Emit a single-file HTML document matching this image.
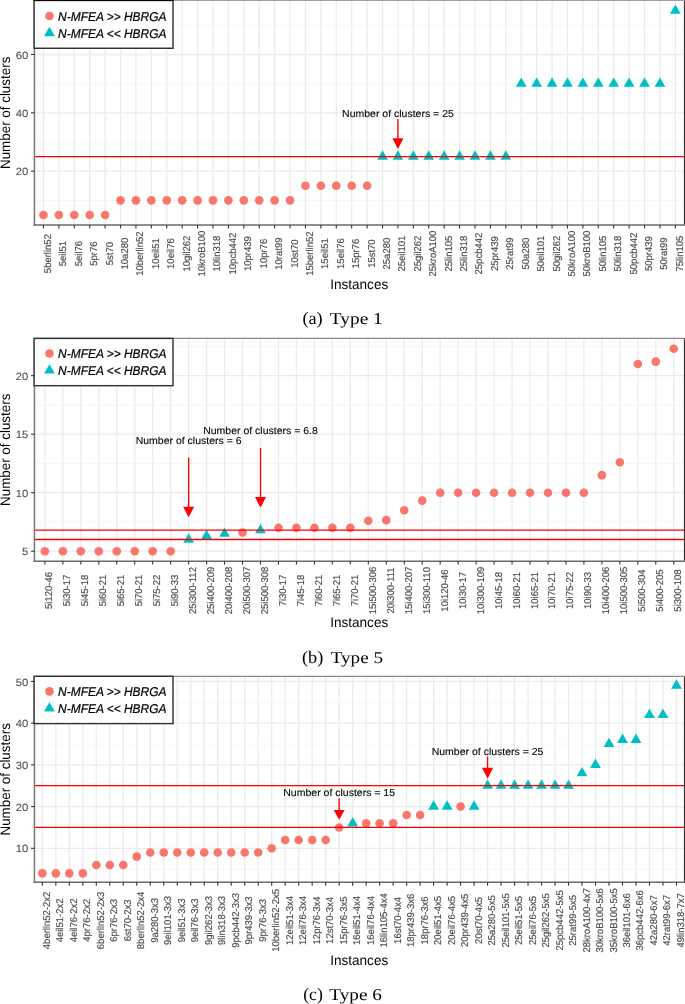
<!DOCTYPE html>
<html><head><meta charset="utf-8"><title>Number of clusters</title>
<style>
html,body{margin:0;padding:0;background:#fff;}
body{width:685px;height:1004px;overflow:hidden;}
svg{display:block;font-family:"Liberation Sans",sans-serif;text-rendering:geometricPrecision;filter:contrast(1);}
</style></head>
<body>
<svg width="685" height="1004" viewBox="0 0 685 1004">
<rect width="685" height="1004" fill="#fff"/>
<rect x="34.45" y="0.7" width="650" height="224.3" fill="#fff"/>
<line x1="34.45" x2="684.45" y1="200.35" y2="200.35" stroke="#F4F4F4" stroke-width="0.8"/>
<line x1="34.45" x2="684.45" y1="142.01" y2="142.01" stroke="#F4F4F4" stroke-width="0.8"/>
<line x1="34.45" x2="684.45" y1="83.66" y2="83.66" stroke="#F4F4F4" stroke-width="0.8"/>
<line x1="34.45" x2="684.45" y1="25.32" y2="25.32" stroke="#F4F4F4" stroke-width="0.8"/>
<line x1="34.45" x2="684.45" y1="171.18" y2="171.18" stroke="#EBEBEB" stroke-width="1.3"/>
<line x1="34.45" x2="684.45" y1="112.84" y2="112.84" stroke="#EBEBEB" stroke-width="1.3"/>
<line x1="34.45" x2="684.45" y1="54.49" y2="54.49" stroke="#EBEBEB" stroke-width="1.3"/>
<line x1="43.45" x2="43.45" y1="0.7" y2="225" stroke="#EBEBEB" stroke-width="1.3"/>
<line x1="58.86" x2="58.86" y1="0.7" y2="225" stroke="#EBEBEB" stroke-width="1.3"/>
<line x1="74.27" x2="74.27" y1="0.7" y2="225" stroke="#EBEBEB" stroke-width="1.3"/>
<line x1="89.69" x2="89.69" y1="0.7" y2="225" stroke="#EBEBEB" stroke-width="1.3"/>
<line x1="105.1" x2="105.1" y1="0.7" y2="225" stroke="#EBEBEB" stroke-width="1.3"/>
<line x1="120.51" x2="120.51" y1="0.7" y2="225" stroke="#EBEBEB" stroke-width="1.3"/>
<line x1="135.92" x2="135.92" y1="0.7" y2="225" stroke="#EBEBEB" stroke-width="1.3"/>
<line x1="151.34" x2="151.34" y1="0.7" y2="225" stroke="#EBEBEB" stroke-width="1.3"/>
<line x1="166.75" x2="166.75" y1="0.7" y2="225" stroke="#EBEBEB" stroke-width="1.3"/>
<line x1="182.16" x2="182.16" y1="0.7" y2="225" stroke="#EBEBEB" stroke-width="1.3"/>
<line x1="197.57" x2="197.57" y1="0.7" y2="225" stroke="#EBEBEB" stroke-width="1.3"/>
<line x1="212.98" x2="212.98" y1="0.7" y2="225" stroke="#EBEBEB" stroke-width="1.3"/>
<line x1="228.4" x2="228.4" y1="0.7" y2="225" stroke="#EBEBEB" stroke-width="1.3"/>
<line x1="243.81" x2="243.81" y1="0.7" y2="225" stroke="#EBEBEB" stroke-width="1.3"/>
<line x1="259.22" x2="259.22" y1="0.7" y2="225" stroke="#EBEBEB" stroke-width="1.3"/>
<line x1="274.63" x2="274.63" y1="0.7" y2="225" stroke="#EBEBEB" stroke-width="1.3"/>
<line x1="290.05" x2="290.05" y1="0.7" y2="225" stroke="#EBEBEB" stroke-width="1.3"/>
<line x1="305.46" x2="305.46" y1="0.7" y2="225" stroke="#EBEBEB" stroke-width="1.3"/>
<line x1="320.87" x2="320.87" y1="0.7" y2="225" stroke="#EBEBEB" stroke-width="1.3"/>
<line x1="336.28" x2="336.28" y1="0.7" y2="225" stroke="#EBEBEB" stroke-width="1.3"/>
<line x1="351.69" x2="351.69" y1="0.7" y2="225" stroke="#EBEBEB" stroke-width="1.3"/>
<line x1="367.11" x2="367.11" y1="0.7" y2="225" stroke="#EBEBEB" stroke-width="1.3"/>
<line x1="382.52" x2="382.52" y1="0.7" y2="225" stroke="#EBEBEB" stroke-width="1.3"/>
<line x1="397.93" x2="397.93" y1="0.7" y2="225" stroke="#EBEBEB" stroke-width="1.3"/>
<line x1="413.34" x2="413.34" y1="0.7" y2="225" stroke="#EBEBEB" stroke-width="1.3"/>
<line x1="428.75" x2="428.75" y1="0.7" y2="225" stroke="#EBEBEB" stroke-width="1.3"/>
<line x1="444.17" x2="444.17" y1="0.7" y2="225" stroke="#EBEBEB" stroke-width="1.3"/>
<line x1="459.58" x2="459.58" y1="0.7" y2="225" stroke="#EBEBEB" stroke-width="1.3"/>
<line x1="474.99" x2="474.99" y1="0.7" y2="225" stroke="#EBEBEB" stroke-width="1.3"/>
<line x1="490.4" x2="490.4" y1="0.7" y2="225" stroke="#EBEBEB" stroke-width="1.3"/>
<line x1="505.82" x2="505.82" y1="0.7" y2="225" stroke="#EBEBEB" stroke-width="1.3"/>
<line x1="521.23" x2="521.23" y1="0.7" y2="225" stroke="#EBEBEB" stroke-width="1.3"/>
<line x1="536.64" x2="536.64" y1="0.7" y2="225" stroke="#EBEBEB" stroke-width="1.3"/>
<line x1="552.05" x2="552.05" y1="0.7" y2="225" stroke="#EBEBEB" stroke-width="1.3"/>
<line x1="567.46" x2="567.46" y1="0.7" y2="225" stroke="#EBEBEB" stroke-width="1.3"/>
<line x1="582.88" x2="582.88" y1="0.7" y2="225" stroke="#EBEBEB" stroke-width="1.3"/>
<line x1="598.29" x2="598.29" y1="0.7" y2="225" stroke="#EBEBEB" stroke-width="1.3"/>
<line x1="613.7" x2="613.7" y1="0.7" y2="225" stroke="#EBEBEB" stroke-width="1.3"/>
<line x1="629.11" x2="629.11" y1="0.7" y2="225" stroke="#EBEBEB" stroke-width="1.3"/>
<line x1="644.53" x2="644.53" y1="0.7" y2="225" stroke="#EBEBEB" stroke-width="1.3"/>
<line x1="659.94" x2="659.94" y1="0.7" y2="225" stroke="#EBEBEB" stroke-width="1.3"/>
<line x1="675.35" x2="675.35" y1="0.7" y2="225" stroke="#EBEBEB" stroke-width="1.3"/>
<circle cx="43.45" cy="214.94" r="4.3" fill="#F8766D"/>
<circle cx="58.86" cy="214.94" r="4.3" fill="#F8766D"/>
<circle cx="74.27" cy="214.94" r="4.3" fill="#F8766D"/>
<circle cx="89.69" cy="214.94" r="4.3" fill="#F8766D"/>
<circle cx="105.1" cy="214.94" r="4.3" fill="#F8766D"/>
<circle cx="120.51" cy="200.35" r="4.3" fill="#F8766D"/>
<circle cx="135.92" cy="200.35" r="4.3" fill="#F8766D"/>
<circle cx="151.34" cy="200.35" r="4.3" fill="#F8766D"/>
<circle cx="166.75" cy="200.35" r="4.3" fill="#F8766D"/>
<circle cx="182.16" cy="200.35" r="4.3" fill="#F8766D"/>
<circle cx="197.57" cy="200.35" r="4.3" fill="#F8766D"/>
<circle cx="212.98" cy="200.35" r="4.3" fill="#F8766D"/>
<circle cx="228.4" cy="200.35" r="4.3" fill="#F8766D"/>
<circle cx="243.81" cy="200.35" r="4.3" fill="#F8766D"/>
<circle cx="259.22" cy="200.35" r="4.3" fill="#F8766D"/>
<circle cx="274.63" cy="200.35" r="4.3" fill="#F8766D"/>
<circle cx="290.05" cy="200.35" r="4.3" fill="#F8766D"/>
<circle cx="305.46" cy="185.77" r="4.3" fill="#F8766D"/>
<circle cx="320.87" cy="185.77" r="4.3" fill="#F8766D"/>
<circle cx="336.28" cy="185.77" r="4.3" fill="#F8766D"/>
<circle cx="351.69" cy="185.77" r="4.3" fill="#F8766D"/>
<circle cx="367.11" cy="185.77" r="4.3" fill="#F8766D"/>
<path d="M382.52 150.36L387.92 159.71L377.12 159.71Z" fill="#00BFC4"/>
<path d="M397.93 150.36L403.33 159.71L392.53 159.71Z" fill="#00BFC4"/>
<path d="M413.34 150.36L418.74 159.71L407.94 159.71Z" fill="#00BFC4"/>
<path d="M428.75 150.36L434.15 159.71L423.35 159.71Z" fill="#00BFC4"/>
<path d="M444.17 150.36L449.57 159.71L438.77 159.71Z" fill="#00BFC4"/>
<path d="M459.58 150.36L464.98 159.71L454.18 159.71Z" fill="#00BFC4"/>
<path d="M474.99 150.36L480.39 159.71L469.59 159.71Z" fill="#00BFC4"/>
<path d="M490.4 150.36L495.8 159.71L485 159.71Z" fill="#00BFC4"/>
<path d="M505.82 150.36L511.22 159.71L500.42 159.71Z" fill="#00BFC4"/>
<path d="M521.23 77.43L526.63 86.78L515.83 86.78Z" fill="#00BFC4"/>
<path d="M536.64 77.43L542.04 86.78L531.24 86.78Z" fill="#00BFC4"/>
<path d="M552.05 77.43L557.45 86.78L546.65 86.78Z" fill="#00BFC4"/>
<path d="M567.46 77.43L572.86 86.78L562.06 86.78Z" fill="#00BFC4"/>
<path d="M582.88 77.43L588.28 86.78L577.48 86.78Z" fill="#00BFC4"/>
<path d="M598.29 77.43L603.69 86.78L592.89 86.78Z" fill="#00BFC4"/>
<path d="M613.7 77.43L619.1 86.78L608.3 86.78Z" fill="#00BFC4"/>
<path d="M629.11 77.43L634.51 86.78L623.71 86.78Z" fill="#00BFC4"/>
<path d="M644.53 77.43L649.93 86.78L639.13 86.78Z" fill="#00BFC4"/>
<path d="M659.94 77.43L665.34 86.78L654.54 86.78Z" fill="#00BFC4"/>
<path d="M675.35 4.5L680.75 13.85L669.95 13.85Z" fill="#00BFC4"/>
<line x1="34.45" x2="684.45" y1="156.59" y2="156.59" stroke="#FF0000" stroke-width="1.3"/>
<text transform="translate(397.93 117.1) scale(1 0.96)" font-size="10.5" text-anchor="middle" fill="#000" stroke="#000" stroke-width="0.1">Number of clusters = 25</text>
<line x1="397.93" x2="397.93" y1="119" y2="138.8" stroke="#FF0000" stroke-width="1.35"/>
<path d="M392.43 138.3L403.43 138.3L397.93 148.9Z" fill="#FF0000"/>
<line x1="34.45" x2="684.45" y1="0.5" y2="0.5" stroke="#a0a0a0" stroke-width="1.0"/>
<line x1="684.45" x2="684.45" y1="0.7" y2="225" stroke="#333333" stroke-width="1.1"/>
<line x1="34.45" x2="34.45" y1="0.7" y2="225.8" stroke="#777777" stroke-width="1.5"/>
<line x1="33.7" x2="685" y1="225" y2="225" stroke="#6a6a6a" stroke-width="1.6"/>
<line x1="31.05" x2="34.45" y1="171.18" y2="171.18" stroke="#333333" stroke-width="1.1"/>
<text transform="translate(28.2 175.28) scale(1 0.94)" font-size="11.2" text-anchor="end" fill="#4D4D4D" stroke="#4D4D4D" stroke-width="0.08">20</text>
<line x1="31.05" x2="34.45" y1="112.84" y2="112.84" stroke="#333333" stroke-width="1.1"/>
<text transform="translate(28.2 116.94) scale(1 0.94)" font-size="11.2" text-anchor="end" fill="#4D4D4D" stroke="#4D4D4D" stroke-width="0.08">40</text>
<line x1="31.05" x2="34.45" y1="54.49" y2="54.49" stroke="#333333" stroke-width="1.1"/>
<text transform="translate(28.2 58.59) scale(1 0.94)" font-size="11.2" text-anchor="end" fill="#4D4D4D" stroke="#4D4D4D" stroke-width="0.08">60</text>
<line x1="43.45" x2="43.45" y1="225" y2="228.4" stroke="#333333" stroke-width="1.1"/>
<text transform="translate(50.95 253.6) rotate(-90) scale(1 1.04)" font-size="9.5" text-anchor="middle" fill="#4D4D4D" stroke="#4D4D4D" stroke-width="0.18">5berlin52</text>
<line x1="58.86" x2="58.86" y1="225" y2="228.4" stroke="#333333" stroke-width="1.1"/>
<text transform="translate(66.36 253.6) rotate(-90) scale(1 1.04)" font-size="9.5" text-anchor="middle" fill="#4D4D4D" stroke="#4D4D4D" stroke-width="0.18">5eil51</text>
<line x1="74.27" x2="74.27" y1="225" y2="228.4" stroke="#333333" stroke-width="1.1"/>
<text transform="translate(81.77 253.6) rotate(-90) scale(1 1.04)" font-size="9.5" text-anchor="middle" fill="#4D4D4D" stroke="#4D4D4D" stroke-width="0.18">5eil76</text>
<line x1="89.69" x2="89.69" y1="225" y2="228.4" stroke="#333333" stroke-width="1.1"/>
<text transform="translate(97.19 253.6) rotate(-90) scale(1 1.04)" font-size="9.5" text-anchor="middle" fill="#4D4D4D" stroke="#4D4D4D" stroke-width="0.18">5pr76</text>
<line x1="105.1" x2="105.1" y1="225" y2="228.4" stroke="#333333" stroke-width="1.1"/>
<text transform="translate(112.6 253.6) rotate(-90) scale(1 1.04)" font-size="9.5" text-anchor="middle" fill="#4D4D4D" stroke="#4D4D4D" stroke-width="0.18">5st70</text>
<line x1="120.51" x2="120.51" y1="225" y2="228.4" stroke="#333333" stroke-width="1.1"/>
<text transform="translate(128.01 253.6) rotate(-90) scale(1 1.04)" font-size="9.5" text-anchor="middle" fill="#4D4D4D" stroke="#4D4D4D" stroke-width="0.18">10a280</text>
<line x1="135.92" x2="135.92" y1="225" y2="228.4" stroke="#333333" stroke-width="1.1"/>
<text transform="translate(143.42 253.6) rotate(-90) scale(1 1.04)" font-size="9.5" text-anchor="middle" fill="#4D4D4D" stroke="#4D4D4D" stroke-width="0.18">10berlin52</text>
<line x1="151.34" x2="151.34" y1="225" y2="228.4" stroke="#333333" stroke-width="1.1"/>
<text transform="translate(158.84 253.6) rotate(-90) scale(1 1.04)" font-size="9.5" text-anchor="middle" fill="#4D4D4D" stroke="#4D4D4D" stroke-width="0.18">10eil51</text>
<line x1="166.75" x2="166.75" y1="225" y2="228.4" stroke="#333333" stroke-width="1.1"/>
<text transform="translate(174.25 253.6) rotate(-90) scale(1 1.04)" font-size="9.5" text-anchor="middle" fill="#4D4D4D" stroke="#4D4D4D" stroke-width="0.18">10eil76</text>
<line x1="182.16" x2="182.16" y1="225" y2="228.4" stroke="#333333" stroke-width="1.1"/>
<text transform="translate(189.66 253.6) rotate(-90) scale(1 1.04)" font-size="9.5" text-anchor="middle" fill="#4D4D4D" stroke="#4D4D4D" stroke-width="0.18">10gil262</text>
<line x1="197.57" x2="197.57" y1="225" y2="228.4" stroke="#333333" stroke-width="1.1"/>
<text transform="translate(205.07 253.6) rotate(-90) scale(1 1.04)" font-size="9.5" text-anchor="middle" fill="#4D4D4D" stroke="#4D4D4D" stroke-width="0.18">10kroB100</text>
<line x1="212.98" x2="212.98" y1="225" y2="228.4" stroke="#333333" stroke-width="1.1"/>
<text transform="translate(220.48 253.6) rotate(-90) scale(1 1.04)" font-size="9.5" text-anchor="middle" fill="#4D4D4D" stroke="#4D4D4D" stroke-width="0.18">10lin318</text>
<line x1="228.4" x2="228.4" y1="225" y2="228.4" stroke="#333333" stroke-width="1.1"/>
<text transform="translate(235.9 253.6) rotate(-90) scale(1 1.04)" font-size="9.5" text-anchor="middle" fill="#4D4D4D" stroke="#4D4D4D" stroke-width="0.18">10pcb442</text>
<line x1="243.81" x2="243.81" y1="225" y2="228.4" stroke="#333333" stroke-width="1.1"/>
<text transform="translate(251.31 253.6) rotate(-90) scale(1 1.04)" font-size="9.5" text-anchor="middle" fill="#4D4D4D" stroke="#4D4D4D" stroke-width="0.18">10pr439</text>
<line x1="259.22" x2="259.22" y1="225" y2="228.4" stroke="#333333" stroke-width="1.1"/>
<text transform="translate(266.72 253.6) rotate(-90) scale(1 1.04)" font-size="9.5" text-anchor="middle" fill="#4D4D4D" stroke="#4D4D4D" stroke-width="0.18">10pr76</text>
<line x1="274.63" x2="274.63" y1="225" y2="228.4" stroke="#333333" stroke-width="1.1"/>
<text transform="translate(282.13 253.6) rotate(-90) scale(1 1.04)" font-size="9.5" text-anchor="middle" fill="#4D4D4D" stroke="#4D4D4D" stroke-width="0.18">10rat99</text>
<line x1="290.05" x2="290.05" y1="225" y2="228.4" stroke="#333333" stroke-width="1.1"/>
<text transform="translate(297.55 253.6) rotate(-90) scale(1 1.04)" font-size="9.5" text-anchor="middle" fill="#4D4D4D" stroke="#4D4D4D" stroke-width="0.18">10st70</text>
<line x1="305.46" x2="305.46" y1="225" y2="228.4" stroke="#333333" stroke-width="1.1"/>
<text transform="translate(312.96 253.6) rotate(-90) scale(1 1.04)" font-size="9.5" text-anchor="middle" fill="#4D4D4D" stroke="#4D4D4D" stroke-width="0.18">15berlin52</text>
<line x1="320.87" x2="320.87" y1="225" y2="228.4" stroke="#333333" stroke-width="1.1"/>
<text transform="translate(328.37 253.6) rotate(-90) scale(1 1.04)" font-size="9.5" text-anchor="middle" fill="#4D4D4D" stroke="#4D4D4D" stroke-width="0.18">15eil51</text>
<line x1="336.28" x2="336.28" y1="225" y2="228.4" stroke="#333333" stroke-width="1.1"/>
<text transform="translate(343.78 253.6) rotate(-90) scale(1 1.04)" font-size="9.5" text-anchor="middle" fill="#4D4D4D" stroke="#4D4D4D" stroke-width="0.18">15eil76</text>
<line x1="351.69" x2="351.69" y1="225" y2="228.4" stroke="#333333" stroke-width="1.1"/>
<text transform="translate(359.19 253.6) rotate(-90) scale(1 1.04)" font-size="9.5" text-anchor="middle" fill="#4D4D4D" stroke="#4D4D4D" stroke-width="0.18">15pr76</text>
<line x1="367.11" x2="367.11" y1="225" y2="228.4" stroke="#333333" stroke-width="1.1"/>
<text transform="translate(374.61 253.6) rotate(-90) scale(1 1.04)" font-size="9.5" text-anchor="middle" fill="#4D4D4D" stroke="#4D4D4D" stroke-width="0.18">15st70</text>
<line x1="382.52" x2="382.52" y1="225" y2="228.4" stroke="#333333" stroke-width="1.1"/>
<text transform="translate(390.02 253.6) rotate(-90) scale(1 1.04)" font-size="9.5" text-anchor="middle" fill="#4D4D4D" stroke="#4D4D4D" stroke-width="0.18">25a280</text>
<line x1="397.93" x2="397.93" y1="225" y2="228.4" stroke="#333333" stroke-width="1.1"/>
<text transform="translate(405.43 253.6) rotate(-90) scale(1 1.04)" font-size="9.5" text-anchor="middle" fill="#4D4D4D" stroke="#4D4D4D" stroke-width="0.18">25eil101</text>
<line x1="413.34" x2="413.34" y1="225" y2="228.4" stroke="#333333" stroke-width="1.1"/>
<text transform="translate(420.84 253.6) rotate(-90) scale(1 1.04)" font-size="9.5" text-anchor="middle" fill="#4D4D4D" stroke="#4D4D4D" stroke-width="0.18">25gil262</text>
<line x1="428.75" x2="428.75" y1="225" y2="228.4" stroke="#333333" stroke-width="1.1"/>
<text transform="translate(436.25 253.6) rotate(-90) scale(1 1.04)" font-size="9.5" text-anchor="middle" fill="#4D4D4D" stroke="#4D4D4D" stroke-width="0.18">25kroA100</text>
<line x1="444.17" x2="444.17" y1="225" y2="228.4" stroke="#333333" stroke-width="1.1"/>
<text transform="translate(451.67 253.6) rotate(-90) scale(1 1.04)" font-size="9.5" text-anchor="middle" fill="#4D4D4D" stroke="#4D4D4D" stroke-width="0.18">25lin105</text>
<line x1="459.58" x2="459.58" y1="225" y2="228.4" stroke="#333333" stroke-width="1.1"/>
<text transform="translate(467.08 253.6) rotate(-90) scale(1 1.04)" font-size="9.5" text-anchor="middle" fill="#4D4D4D" stroke="#4D4D4D" stroke-width="0.18">25lin318</text>
<line x1="474.99" x2="474.99" y1="225" y2="228.4" stroke="#333333" stroke-width="1.1"/>
<text transform="translate(482.49 253.6) rotate(-90) scale(1 1.04)" font-size="9.5" text-anchor="middle" fill="#4D4D4D" stroke="#4D4D4D" stroke-width="0.18">25pcb442</text>
<line x1="490.4" x2="490.4" y1="225" y2="228.4" stroke="#333333" stroke-width="1.1"/>
<text transform="translate(497.9 253.6) rotate(-90) scale(1 1.04)" font-size="9.5" text-anchor="middle" fill="#4D4D4D" stroke="#4D4D4D" stroke-width="0.18">25pr439</text>
<line x1="505.82" x2="505.82" y1="225" y2="228.4" stroke="#333333" stroke-width="1.1"/>
<text transform="translate(513.32 253.6) rotate(-90) scale(1 1.04)" font-size="9.5" text-anchor="middle" fill="#4D4D4D" stroke="#4D4D4D" stroke-width="0.18">25rat99</text>
<line x1="521.23" x2="521.23" y1="225" y2="228.4" stroke="#333333" stroke-width="1.1"/>
<text transform="translate(528.73 253.6) rotate(-90) scale(1 1.04)" font-size="9.5" text-anchor="middle" fill="#4D4D4D" stroke="#4D4D4D" stroke-width="0.18">50a280</text>
<line x1="536.64" x2="536.64" y1="225" y2="228.4" stroke="#333333" stroke-width="1.1"/>
<text transform="translate(544.14 253.6) rotate(-90) scale(1 1.04)" font-size="9.5" text-anchor="middle" fill="#4D4D4D" stroke="#4D4D4D" stroke-width="0.18">50eil101</text>
<line x1="552.05" x2="552.05" y1="225" y2="228.4" stroke="#333333" stroke-width="1.1"/>
<text transform="translate(559.55 253.6) rotate(-90) scale(1 1.04)" font-size="9.5" text-anchor="middle" fill="#4D4D4D" stroke="#4D4D4D" stroke-width="0.18">50gil262</text>
<line x1="567.46" x2="567.46" y1="225" y2="228.4" stroke="#333333" stroke-width="1.1"/>
<text transform="translate(574.96 253.6) rotate(-90) scale(1 1.04)" font-size="9.5" text-anchor="middle" fill="#4D4D4D" stroke="#4D4D4D" stroke-width="0.18">50kroA100</text>
<line x1="582.88" x2="582.88" y1="225" y2="228.4" stroke="#333333" stroke-width="1.1"/>
<text transform="translate(590.38 253.6) rotate(-90) scale(1 1.04)" font-size="9.5" text-anchor="middle" fill="#4D4D4D" stroke="#4D4D4D" stroke-width="0.18">50kroB100</text>
<line x1="598.29" x2="598.29" y1="225" y2="228.4" stroke="#333333" stroke-width="1.1"/>
<text transform="translate(605.79 253.6) rotate(-90) scale(1 1.04)" font-size="9.5" text-anchor="middle" fill="#4D4D4D" stroke="#4D4D4D" stroke-width="0.18">50lin105</text>
<line x1="613.7" x2="613.7" y1="225" y2="228.4" stroke="#333333" stroke-width="1.1"/>
<text transform="translate(621.2 253.6) rotate(-90) scale(1 1.04)" font-size="9.5" text-anchor="middle" fill="#4D4D4D" stroke="#4D4D4D" stroke-width="0.18">50lin318</text>
<line x1="629.11" x2="629.11" y1="225" y2="228.4" stroke="#333333" stroke-width="1.1"/>
<text transform="translate(636.61 253.6) rotate(-90) scale(1 1.04)" font-size="9.5" text-anchor="middle" fill="#4D4D4D" stroke="#4D4D4D" stroke-width="0.18">50pcb442</text>
<line x1="644.53" x2="644.53" y1="225" y2="228.4" stroke="#333333" stroke-width="1.1"/>
<text transform="translate(652.03 253.6) rotate(-90) scale(1 1.04)" font-size="9.5" text-anchor="middle" fill="#4D4D4D" stroke="#4D4D4D" stroke-width="0.18">50pr439</text>
<line x1="659.94" x2="659.94" y1="225" y2="228.4" stroke="#333333" stroke-width="1.1"/>
<text transform="translate(667.44 253.6) rotate(-90) scale(1 1.04)" font-size="9.5" text-anchor="middle" fill="#4D4D4D" stroke="#4D4D4D" stroke-width="0.18">50rat99</text>
<line x1="675.35" x2="675.35" y1="225" y2="228.4" stroke="#333333" stroke-width="1.1"/>
<text transform="translate(682.85 253.6) rotate(-90) scale(1 1.04)" font-size="9.5" text-anchor="middle" fill="#4D4D4D" stroke="#4D4D4D" stroke-width="0.18">75lin105</text>
<text transform="translate(10 112.85) rotate(-90) scale(1 1.03)" font-size="13.4" text-anchor="middle" fill="#000" stroke="#000" stroke-width="0.0">Number of clusters</text>
<text transform="translate(359.2 289.3) scale(1 1.03)" font-size="13.55" text-anchor="middle" fill="#000" stroke="#000" stroke-width="0.0">Instances</text>
<rect x="34.1" y="0.45" width="138.9" height="47.82" fill="#fff" stroke="#333333" stroke-width="1.45"/>
<line x1="33.4" x2="173.7" y1="0.45" y2="0.45" stroke="#000" stroke-width="0.9"/>
<circle cx="49.45" cy="16.07" r="4.3" fill="#F8766D"/>
<path d="M49.45 26.83L54.85 36.19L44.05 36.19Z" fill="#00BFC4"/>
<text transform="translate(58.1 20.52) scale(1 1.07)" font-size="11.95" font-style="italic" fill="#000" stroke="#000" stroke-width="0.2">N-MFEA &gt;&gt; HBRGA</text>
<text transform="translate(58.1 37.52) scale(1 1.07)" font-size="11.95" font-style="italic" fill="#000" stroke="#000" stroke-width="0.2">N-MFEA &lt;&lt; HBRGA</text>
<text transform="translate(302.39 324.4) scale(1.1023 1.07)" font-family="Liberation Serif, serif" font-size="16.6" fill="#000">(a)</text>
<text transform="translate(329.85 324.4) scale(1.1646 1.0)" font-family="Liberation Serif, serif" font-size="16.6" fill="#000">Type 1</text>
<rect x="34.45" y="338.4" width="650" height="222.8" fill="#fff"/>
<line x1="34.45" x2="684.45" y1="521.96" y2="521.96" stroke="#F4F4F4" stroke-width="0.8"/>
<line x1="34.45" x2="684.45" y1="463.44" y2="463.44" stroke="#F4F4F4" stroke-width="0.8"/>
<line x1="34.45" x2="684.45" y1="404.92" y2="404.92" stroke="#F4F4F4" stroke-width="0.8"/>
<line x1="34.45" x2="684.45" y1="346.4" y2="346.4" stroke="#F4F4F4" stroke-width="0.8"/>
<line x1="34.45" x2="684.45" y1="551.22" y2="551.22" stroke="#EBEBEB" stroke-width="1.3"/>
<line x1="34.45" x2="684.45" y1="492.7" y2="492.7" stroke="#EBEBEB" stroke-width="1.3"/>
<line x1="34.45" x2="684.45" y1="434.18" y2="434.18" stroke="#EBEBEB" stroke-width="1.3"/>
<line x1="34.45" x2="684.45" y1="375.66" y2="375.66" stroke="#EBEBEB" stroke-width="1.3"/>
<line x1="44.89" x2="44.89" y1="338.4" y2="561.2" stroke="#EBEBEB" stroke-width="1.3"/>
<line x1="62.86" x2="62.86" y1="338.4" y2="561.2" stroke="#EBEBEB" stroke-width="1.3"/>
<line x1="80.82" x2="80.82" y1="338.4" y2="561.2" stroke="#EBEBEB" stroke-width="1.3"/>
<line x1="98.79" x2="98.79" y1="338.4" y2="561.2" stroke="#EBEBEB" stroke-width="1.3"/>
<line x1="116.76" x2="116.76" y1="338.4" y2="561.2" stroke="#EBEBEB" stroke-width="1.3"/>
<line x1="134.73" x2="134.73" y1="338.4" y2="561.2" stroke="#EBEBEB" stroke-width="1.3"/>
<line x1="152.69" x2="152.69" y1="338.4" y2="561.2" stroke="#EBEBEB" stroke-width="1.3"/>
<line x1="170.66" x2="170.66" y1="338.4" y2="561.2" stroke="#EBEBEB" stroke-width="1.3"/>
<line x1="188.63" x2="188.63" y1="338.4" y2="561.2" stroke="#EBEBEB" stroke-width="1.3"/>
<line x1="206.6" x2="206.6" y1="338.4" y2="561.2" stroke="#EBEBEB" stroke-width="1.3"/>
<line x1="224.56" x2="224.56" y1="338.4" y2="561.2" stroke="#EBEBEB" stroke-width="1.3"/>
<line x1="242.53" x2="242.53" y1="338.4" y2="561.2" stroke="#EBEBEB" stroke-width="1.3"/>
<line x1="260.5" x2="260.5" y1="338.4" y2="561.2" stroke="#EBEBEB" stroke-width="1.3"/>
<line x1="278.47" x2="278.47" y1="338.4" y2="561.2" stroke="#EBEBEB" stroke-width="1.3"/>
<line x1="296.43" x2="296.43" y1="338.4" y2="561.2" stroke="#EBEBEB" stroke-width="1.3"/>
<line x1="314.4" x2="314.4" y1="338.4" y2="561.2" stroke="#EBEBEB" stroke-width="1.3"/>
<line x1="332.37" x2="332.37" y1="338.4" y2="561.2" stroke="#EBEBEB" stroke-width="1.3"/>
<line x1="350.34" x2="350.34" y1="338.4" y2="561.2" stroke="#EBEBEB" stroke-width="1.3"/>
<line x1="368.3" x2="368.3" y1="338.4" y2="561.2" stroke="#EBEBEB" stroke-width="1.3"/>
<line x1="386.27" x2="386.27" y1="338.4" y2="561.2" stroke="#EBEBEB" stroke-width="1.3"/>
<line x1="404.24" x2="404.24" y1="338.4" y2="561.2" stroke="#EBEBEB" stroke-width="1.3"/>
<line x1="422.21" x2="422.21" y1="338.4" y2="561.2" stroke="#EBEBEB" stroke-width="1.3"/>
<line x1="440.17" x2="440.17" y1="338.4" y2="561.2" stroke="#EBEBEB" stroke-width="1.3"/>
<line x1="458.14" x2="458.14" y1="338.4" y2="561.2" stroke="#EBEBEB" stroke-width="1.3"/>
<line x1="476.11" x2="476.11" y1="338.4" y2="561.2" stroke="#EBEBEB" stroke-width="1.3"/>
<line x1="494.08" x2="494.08" y1="338.4" y2="561.2" stroke="#EBEBEB" stroke-width="1.3"/>
<line x1="512.04" x2="512.04" y1="338.4" y2="561.2" stroke="#EBEBEB" stroke-width="1.3"/>
<line x1="530.01" x2="530.01" y1="338.4" y2="561.2" stroke="#EBEBEB" stroke-width="1.3"/>
<line x1="547.98" x2="547.98" y1="338.4" y2="561.2" stroke="#EBEBEB" stroke-width="1.3"/>
<line x1="565.95" x2="565.95" y1="338.4" y2="561.2" stroke="#EBEBEB" stroke-width="1.3"/>
<line x1="583.91" x2="583.91" y1="338.4" y2="561.2" stroke="#EBEBEB" stroke-width="1.3"/>
<line x1="601.88" x2="601.88" y1="338.4" y2="561.2" stroke="#EBEBEB" stroke-width="1.3"/>
<line x1="619.85" x2="619.85" y1="338.4" y2="561.2" stroke="#EBEBEB" stroke-width="1.3"/>
<line x1="637.82" x2="637.82" y1="338.4" y2="561.2" stroke="#EBEBEB" stroke-width="1.3"/>
<line x1="655.78" x2="655.78" y1="338.4" y2="561.2" stroke="#EBEBEB" stroke-width="1.3"/>
<line x1="673.75" x2="673.75" y1="338.4" y2="561.2" stroke="#EBEBEB" stroke-width="1.3"/>
<circle cx="44.89" cy="551.22" r="4.3" fill="#F8766D"/>
<circle cx="62.86" cy="551.22" r="4.3" fill="#F8766D"/>
<circle cx="80.82" cy="551.22" r="4.3" fill="#F8766D"/>
<circle cx="98.79" cy="551.22" r="4.3" fill="#F8766D"/>
<circle cx="116.76" cy="551.22" r="4.3" fill="#F8766D"/>
<circle cx="134.73" cy="551.22" r="4.3" fill="#F8766D"/>
<circle cx="152.69" cy="551.22" r="4.3" fill="#F8766D"/>
<circle cx="170.66" cy="551.22" r="4.3" fill="#F8766D"/>
<path d="M188.63 533.28L194.03 542.63L183.23 542.63Z" fill="#00BFC4"/>
<path d="M206.6 529.77L212 539.12L201.2 539.12Z" fill="#00BFC4"/>
<path d="M224.56 527.43L229.96 536.78L219.16 536.78Z" fill="#00BFC4"/>
<circle cx="242.53" cy="532.49" r="4.3" fill="#F8766D"/>
<path d="M260.5 523.92L265.9 533.27L255.1 533.27Z" fill="#00BFC4"/>
<circle cx="278.47" cy="527.81" r="4.3" fill="#F8766D"/>
<circle cx="296.43" cy="527.81" r="4.3" fill="#F8766D"/>
<circle cx="314.4" cy="527.81" r="4.3" fill="#F8766D"/>
<circle cx="332.37" cy="527.81" r="4.3" fill="#F8766D"/>
<circle cx="350.34" cy="527.81" r="4.3" fill="#F8766D"/>
<circle cx="368.3" cy="520.79" r="4.3" fill="#F8766D"/>
<circle cx="386.27" cy="520.09" r="4.3" fill="#F8766D"/>
<circle cx="404.24" cy="510.26" r="4.3" fill="#F8766D"/>
<circle cx="422.21" cy="500.66" r="4.3" fill="#F8766D"/>
<circle cx="440.17" cy="492.7" r="4.3" fill="#F8766D"/>
<circle cx="458.14" cy="492.7" r="4.3" fill="#F8766D"/>
<circle cx="476.11" cy="492.7" r="4.3" fill="#F8766D"/>
<circle cx="494.08" cy="492.7" r="4.3" fill="#F8766D"/>
<circle cx="512.04" cy="492.7" r="4.3" fill="#F8766D"/>
<circle cx="530.01" cy="492.7" r="4.3" fill="#F8766D"/>
<circle cx="547.98" cy="492.7" r="4.3" fill="#F8766D"/>
<circle cx="565.95" cy="492.7" r="4.3" fill="#F8766D"/>
<circle cx="583.91" cy="492.7" r="4.3" fill="#F8766D"/>
<circle cx="601.88" cy="475.14" r="4.3" fill="#F8766D"/>
<circle cx="619.85" cy="462.27" r="4.3" fill="#F8766D"/>
<circle cx="637.82" cy="363.96" r="4.3" fill="#F8766D"/>
<circle cx="655.78" cy="361.62" r="4.3" fill="#F8766D"/>
<circle cx="673.75" cy="348.74" r="4.3" fill="#F8766D"/>
<line x1="34.45" x2="684.45" y1="530.15" y2="530.15" stroke="#FF0000" stroke-width="1.3"/>
<line x1="34.45" x2="684.45" y1="539.52" y2="539.52" stroke="#FF0000" stroke-width="1.3"/>
<text transform="translate(188.63 444.3) scale(1 0.96)" font-size="10.5" text-anchor="middle" fill="#000" stroke="#000" stroke-width="0.1">Number of clusters = 6</text>
<line x1="188.63" x2="188.63" y1="457.4" y2="507.3" stroke="#FF0000" stroke-width="1.35"/>
<path d="M183.13 506.8L194.13 506.8L188.63 517.2Z" fill="#FF0000"/>
<text transform="translate(260.5 434.4) scale(1 0.96)" font-size="10.5" text-anchor="middle" fill="#000" stroke="#000" stroke-width="0.1">Number of clusters = 6.8</text>
<line x1="260.5" x2="260.5" y1="448" y2="497.5" stroke="#FF0000" stroke-width="1.35"/>
<path d="M255 497L266 497L260.5 507.8Z" fill="#FF0000"/>
<line x1="34.45" x2="684.45" y1="338.4" y2="338.4" stroke="#8a8a8a" stroke-width="1.2"/>
<line x1="684.45" x2="684.45" y1="338.4" y2="561.2" stroke="#333333" stroke-width="1.1"/>
<line x1="34.45" x2="34.45" y1="338.4" y2="562" stroke="#777777" stroke-width="1.5"/>
<line x1="33.7" x2="685" y1="561.2" y2="561.2" stroke="#6a6a6a" stroke-width="1.6"/>
<line x1="31.05" x2="34.45" y1="551.22" y2="551.22" stroke="#333333" stroke-width="1.1"/>
<text transform="translate(28.2 555.32) scale(1 0.94)" font-size="11.2" text-anchor="end" fill="#4D4D4D" stroke="#4D4D4D" stroke-width="0.08">5</text>
<line x1="31.05" x2="34.45" y1="492.7" y2="492.7" stroke="#333333" stroke-width="1.1"/>
<text transform="translate(28.2 496.8) scale(1 0.94)" font-size="11.2" text-anchor="end" fill="#4D4D4D" stroke="#4D4D4D" stroke-width="0.08">10</text>
<line x1="31.05" x2="34.45" y1="434.18" y2="434.18" stroke="#333333" stroke-width="1.1"/>
<text transform="translate(28.2 438.28) scale(1 0.94)" font-size="11.2" text-anchor="end" fill="#4D4D4D" stroke="#4D4D4D" stroke-width="0.08">15</text>
<line x1="31.05" x2="34.45" y1="375.66" y2="375.66" stroke="#333333" stroke-width="1.1"/>
<text transform="translate(28.2 379.76) scale(1 0.94)" font-size="11.2" text-anchor="end" fill="#4D4D4D" stroke="#4D4D4D" stroke-width="0.08">20</text>
<line x1="44.89" x2="44.89" y1="561.2" y2="564.6" stroke="#333333" stroke-width="1.1"/>
<text transform="translate(52.39 590.5) rotate(-90) scale(1 1.04)" font-size="9.5" text-anchor="middle" fill="#4D4D4D" stroke="#4D4D4D" stroke-width="0.18">5i120-46</text>
<line x1="62.86" x2="62.86" y1="561.2" y2="564.6" stroke="#333333" stroke-width="1.1"/>
<text transform="translate(70.36 590.5) rotate(-90) scale(1 1.04)" font-size="9.5" text-anchor="middle" fill="#4D4D4D" stroke="#4D4D4D" stroke-width="0.18">5i30-17</text>
<line x1="80.82" x2="80.82" y1="561.2" y2="564.6" stroke="#333333" stroke-width="1.1"/>
<text transform="translate(88.32 590.5) rotate(-90) scale(1 1.04)" font-size="9.5" text-anchor="middle" fill="#4D4D4D" stroke="#4D4D4D" stroke-width="0.18">5i45-18</text>
<line x1="98.79" x2="98.79" y1="561.2" y2="564.6" stroke="#333333" stroke-width="1.1"/>
<text transform="translate(106.29 590.5) rotate(-90) scale(1 1.04)" font-size="9.5" text-anchor="middle" fill="#4D4D4D" stroke="#4D4D4D" stroke-width="0.18">5i60-21</text>
<line x1="116.76" x2="116.76" y1="561.2" y2="564.6" stroke="#333333" stroke-width="1.1"/>
<text transform="translate(124.26 590.5) rotate(-90) scale(1 1.04)" font-size="9.5" text-anchor="middle" fill="#4D4D4D" stroke="#4D4D4D" stroke-width="0.18">5i65-21</text>
<line x1="134.73" x2="134.73" y1="561.2" y2="564.6" stroke="#333333" stroke-width="1.1"/>
<text transform="translate(142.23 590.5) rotate(-90) scale(1 1.04)" font-size="9.5" text-anchor="middle" fill="#4D4D4D" stroke="#4D4D4D" stroke-width="0.18">5i70-21</text>
<line x1="152.69" x2="152.69" y1="561.2" y2="564.6" stroke="#333333" stroke-width="1.1"/>
<text transform="translate(160.19 590.5) rotate(-90) scale(1 1.04)" font-size="9.5" text-anchor="middle" fill="#4D4D4D" stroke="#4D4D4D" stroke-width="0.18">5i75-22</text>
<line x1="170.66" x2="170.66" y1="561.2" y2="564.6" stroke="#333333" stroke-width="1.1"/>
<text transform="translate(178.16 590.5) rotate(-90) scale(1 1.04)" font-size="9.5" text-anchor="middle" fill="#4D4D4D" stroke="#4D4D4D" stroke-width="0.18">5i90-33</text>
<line x1="188.63" x2="188.63" y1="561.2" y2="564.6" stroke="#333333" stroke-width="1.1"/>
<text transform="translate(196.13 590.5) rotate(-90) scale(1 1.04)" font-size="9.5" text-anchor="middle" fill="#4D4D4D" stroke="#4D4D4D" stroke-width="0.18">25i300-112</text>
<line x1="206.6" x2="206.6" y1="561.2" y2="564.6" stroke="#333333" stroke-width="1.1"/>
<text transform="translate(214.1 590.5) rotate(-90) scale(1 1.04)" font-size="9.5" text-anchor="middle" fill="#4D4D4D" stroke="#4D4D4D" stroke-width="0.18">25i400-209</text>
<line x1="224.56" x2="224.56" y1="561.2" y2="564.6" stroke="#333333" stroke-width="1.1"/>
<text transform="translate(232.06 590.5) rotate(-90) scale(1 1.04)" font-size="9.5" text-anchor="middle" fill="#4D4D4D" stroke="#4D4D4D" stroke-width="0.18">20i400-208</text>
<line x1="242.53" x2="242.53" y1="561.2" y2="564.6" stroke="#333333" stroke-width="1.1"/>
<text transform="translate(250.03 590.5) rotate(-90) scale(1 1.04)" font-size="9.5" text-anchor="middle" fill="#4D4D4D" stroke="#4D4D4D" stroke-width="0.18">20i500-307</text>
<line x1="260.5" x2="260.5" y1="561.2" y2="564.6" stroke="#333333" stroke-width="1.1"/>
<text transform="translate(268 590.5) rotate(-90) scale(1 1.04)" font-size="9.5" text-anchor="middle" fill="#4D4D4D" stroke="#4D4D4D" stroke-width="0.18">25i500-308</text>
<line x1="278.47" x2="278.47" y1="561.2" y2="564.6" stroke="#333333" stroke-width="1.1"/>
<text transform="translate(285.97 590.5) rotate(-90) scale(1 1.04)" font-size="9.5" text-anchor="middle" fill="#4D4D4D" stroke="#4D4D4D" stroke-width="0.18">7i30-17</text>
<line x1="296.43" x2="296.43" y1="561.2" y2="564.6" stroke="#333333" stroke-width="1.1"/>
<text transform="translate(303.93 590.5) rotate(-90) scale(1 1.04)" font-size="9.5" text-anchor="middle" fill="#4D4D4D" stroke="#4D4D4D" stroke-width="0.18">7i45-18</text>
<line x1="314.4" x2="314.4" y1="561.2" y2="564.6" stroke="#333333" stroke-width="1.1"/>
<text transform="translate(321.9 590.5) rotate(-90) scale(1 1.04)" font-size="9.5" text-anchor="middle" fill="#4D4D4D" stroke="#4D4D4D" stroke-width="0.18">7i60-21</text>
<line x1="332.37" x2="332.37" y1="561.2" y2="564.6" stroke="#333333" stroke-width="1.1"/>
<text transform="translate(339.87 590.5) rotate(-90) scale(1 1.04)" font-size="9.5" text-anchor="middle" fill="#4D4D4D" stroke="#4D4D4D" stroke-width="0.18">7i65-21</text>
<line x1="350.34" x2="350.34" y1="561.2" y2="564.6" stroke="#333333" stroke-width="1.1"/>
<text transform="translate(357.84 590.5) rotate(-90) scale(1 1.04)" font-size="9.5" text-anchor="middle" fill="#4D4D4D" stroke="#4D4D4D" stroke-width="0.18">7i70-21</text>
<line x1="368.3" x2="368.3" y1="561.2" y2="564.6" stroke="#333333" stroke-width="1.1"/>
<text transform="translate(375.8 590.5) rotate(-90) scale(1 1.04)" font-size="9.5" text-anchor="middle" fill="#4D4D4D" stroke="#4D4D4D" stroke-width="0.18">15i500-306</text>
<line x1="386.27" x2="386.27" y1="561.2" y2="564.6" stroke="#333333" stroke-width="1.1"/>
<text transform="translate(393.77 590.5) rotate(-90) scale(1 1.04)" font-size="9.5" text-anchor="middle" fill="#4D4D4D" stroke="#4D4D4D" stroke-width="0.18">20i300-111</text>
<line x1="404.24" x2="404.24" y1="561.2" y2="564.6" stroke="#333333" stroke-width="1.1"/>
<text transform="translate(411.74 590.5) rotate(-90) scale(1 1.04)" font-size="9.5" text-anchor="middle" fill="#4D4D4D" stroke="#4D4D4D" stroke-width="0.18">15i400-207</text>
<line x1="422.21" x2="422.21" y1="561.2" y2="564.6" stroke="#333333" stroke-width="1.1"/>
<text transform="translate(429.71 590.5) rotate(-90) scale(1 1.04)" font-size="9.5" text-anchor="middle" fill="#4D4D4D" stroke="#4D4D4D" stroke-width="0.18">15i300-110</text>
<line x1="440.17" x2="440.17" y1="561.2" y2="564.6" stroke="#333333" stroke-width="1.1"/>
<text transform="translate(447.67 590.5) rotate(-90) scale(1 1.04)" font-size="9.5" text-anchor="middle" fill="#4D4D4D" stroke="#4D4D4D" stroke-width="0.18">10i120-46</text>
<line x1="458.14" x2="458.14" y1="561.2" y2="564.6" stroke="#333333" stroke-width="1.1"/>
<text transform="translate(465.64 590.5) rotate(-90) scale(1 1.04)" font-size="9.5" text-anchor="middle" fill="#4D4D4D" stroke="#4D4D4D" stroke-width="0.18">10i30-17</text>
<line x1="476.11" x2="476.11" y1="561.2" y2="564.6" stroke="#333333" stroke-width="1.1"/>
<text transform="translate(483.61 590.5) rotate(-90) scale(1 1.04)" font-size="9.5" text-anchor="middle" fill="#4D4D4D" stroke="#4D4D4D" stroke-width="0.18">10i300-109</text>
<line x1="494.08" x2="494.08" y1="561.2" y2="564.6" stroke="#333333" stroke-width="1.1"/>
<text transform="translate(501.58 590.5) rotate(-90) scale(1 1.04)" font-size="9.5" text-anchor="middle" fill="#4D4D4D" stroke="#4D4D4D" stroke-width="0.18">10i45-18</text>
<line x1="512.04" x2="512.04" y1="561.2" y2="564.6" stroke="#333333" stroke-width="1.1"/>
<text transform="translate(519.54 590.5) rotate(-90) scale(1 1.04)" font-size="9.5" text-anchor="middle" fill="#4D4D4D" stroke="#4D4D4D" stroke-width="0.18">10i60-21</text>
<line x1="530.01" x2="530.01" y1="561.2" y2="564.6" stroke="#333333" stroke-width="1.1"/>
<text transform="translate(537.51 590.5) rotate(-90) scale(1 1.04)" font-size="9.5" text-anchor="middle" fill="#4D4D4D" stroke="#4D4D4D" stroke-width="0.18">10i65-21</text>
<line x1="547.98" x2="547.98" y1="561.2" y2="564.6" stroke="#333333" stroke-width="1.1"/>
<text transform="translate(555.48 590.5) rotate(-90) scale(1 1.04)" font-size="9.5" text-anchor="middle" fill="#4D4D4D" stroke="#4D4D4D" stroke-width="0.18">10i70-21</text>
<line x1="565.95" x2="565.95" y1="561.2" y2="564.6" stroke="#333333" stroke-width="1.1"/>
<text transform="translate(573.45 590.5) rotate(-90) scale(1 1.04)" font-size="9.5" text-anchor="middle" fill="#4D4D4D" stroke="#4D4D4D" stroke-width="0.18">10i75-22</text>
<line x1="583.91" x2="583.91" y1="561.2" y2="564.6" stroke="#333333" stroke-width="1.1"/>
<text transform="translate(591.41 590.5) rotate(-90) scale(1 1.04)" font-size="9.5" text-anchor="middle" fill="#4D4D4D" stroke="#4D4D4D" stroke-width="0.18">10i90-33</text>
<line x1="601.88" x2="601.88" y1="561.2" y2="564.6" stroke="#333333" stroke-width="1.1"/>
<text transform="translate(609.38 590.5) rotate(-90) scale(1 1.04)" font-size="9.5" text-anchor="middle" fill="#4D4D4D" stroke="#4D4D4D" stroke-width="0.18">10i400-206</text>
<line x1="619.85" x2="619.85" y1="561.2" y2="564.6" stroke="#333333" stroke-width="1.1"/>
<text transform="translate(627.35 590.5) rotate(-90) scale(1 1.04)" font-size="9.5" text-anchor="middle" fill="#4D4D4D" stroke="#4D4D4D" stroke-width="0.18">10i500-305</text>
<line x1="637.82" x2="637.82" y1="561.2" y2="564.6" stroke="#333333" stroke-width="1.1"/>
<text transform="translate(645.32 590.5) rotate(-90) scale(1 1.04)" font-size="9.5" text-anchor="middle" fill="#4D4D4D" stroke="#4D4D4D" stroke-width="0.18">5i500-304</text>
<line x1="655.78" x2="655.78" y1="561.2" y2="564.6" stroke="#333333" stroke-width="1.1"/>
<text transform="translate(663.28 590.5) rotate(-90) scale(1 1.04)" font-size="9.5" text-anchor="middle" fill="#4D4D4D" stroke="#4D4D4D" stroke-width="0.18">5i400-205</text>
<line x1="673.75" x2="673.75" y1="561.2" y2="564.6" stroke="#333333" stroke-width="1.1"/>
<text transform="translate(681.25 590.5) rotate(-90) scale(1 1.04)" font-size="9.5" text-anchor="middle" fill="#4D4D4D" stroke="#4D4D4D" stroke-width="0.18">5i300-108</text>
<text transform="translate(10 449.8) rotate(-90) scale(1 1.03)" font-size="13.4" text-anchor="middle" fill="#000" stroke="#000" stroke-width="0.0">Number of clusters</text>
<text transform="translate(359.2 627.35) scale(1 1.03)" font-size="13.55" text-anchor="middle" fill="#000" stroke="#000" stroke-width="0.0">Instances</text>
<rect x="34.1" y="338.4" width="138.9" height="47.3" fill="#fff" stroke="#333333" stroke-width="1.45"/>
<circle cx="49.45" cy="353.5" r="4.3" fill="#F8766D"/>
<path d="M49.45 364.26L54.85 373.62L44.05 373.62Z" fill="#00BFC4"/>
<text transform="translate(58.1 357.95) scale(1 1.07)" font-size="11.95" font-style="italic" fill="#000" stroke="#000" stroke-width="0.2">N-MFEA &gt;&gt; HBRGA</text>
<text transform="translate(58.1 374.95) scale(1 1.07)" font-size="11.95" font-style="italic" fill="#000" stroke="#000" stroke-width="0.2">N-MFEA &lt;&lt; HBRGA</text>
<text transform="translate(302 662.5) scale(1.1009 1.07)" font-family="Liberation Serif, serif" font-size="16.6" fill="#000">(b)</text>
<text transform="translate(330.66 662.5) scale(1.1527 1.0)" font-family="Liberation Serif, serif" font-size="16.6" fill="#000">Type 5</text>
<rect x="34.45" y="676.4" width="650" height="205.9" fill="#fff"/>
<line x1="34.45" x2="684.45" y1="869.17" y2="869.17" stroke="#F4F4F4" stroke-width="0.8"/>
<line x1="34.45" x2="684.45" y1="827.45" y2="827.45" stroke="#F4F4F4" stroke-width="0.8"/>
<line x1="34.45" x2="684.45" y1="785.72" y2="785.72" stroke="#F4F4F4" stroke-width="0.8"/>
<line x1="34.45" x2="684.45" y1="743.99" y2="743.99" stroke="#F4F4F4" stroke-width="0.8"/>
<line x1="34.45" x2="684.45" y1="702.26" y2="702.26" stroke="#F4F4F4" stroke-width="0.8"/>
<line x1="34.45" x2="684.45" y1="848.31" y2="848.31" stroke="#EBEBEB" stroke-width="1.3"/>
<line x1="34.45" x2="684.45" y1="806.58" y2="806.58" stroke="#EBEBEB" stroke-width="1.3"/>
<line x1="34.45" x2="684.45" y1="764.86" y2="764.86" stroke="#EBEBEB" stroke-width="1.3"/>
<line x1="34.45" x2="684.45" y1="723.13" y2="723.13" stroke="#EBEBEB" stroke-width="1.3"/>
<line x1="34.45" x2="684.45" y1="681.4" y2="681.4" stroke="#EBEBEB" stroke-width="1.3"/>
<line x1="42.33" x2="42.33" y1="676.4" y2="882.3" stroke="#EBEBEB" stroke-width="1.3"/>
<line x1="55.82" x2="55.82" y1="676.4" y2="882.3" stroke="#EBEBEB" stroke-width="1.3"/>
<line x1="69.31" x2="69.31" y1="676.4" y2="882.3" stroke="#EBEBEB" stroke-width="1.3"/>
<line x1="82.81" x2="82.81" y1="676.4" y2="882.3" stroke="#EBEBEB" stroke-width="1.3"/>
<line x1="96.3" x2="96.3" y1="676.4" y2="882.3" stroke="#EBEBEB" stroke-width="1.3"/>
<line x1="109.79" x2="109.79" y1="676.4" y2="882.3" stroke="#EBEBEB" stroke-width="1.3"/>
<line x1="123.28" x2="123.28" y1="676.4" y2="882.3" stroke="#EBEBEB" stroke-width="1.3"/>
<line x1="136.77" x2="136.77" y1="676.4" y2="882.3" stroke="#EBEBEB" stroke-width="1.3"/>
<line x1="150.27" x2="150.27" y1="676.4" y2="882.3" stroke="#EBEBEB" stroke-width="1.3"/>
<line x1="163.76" x2="163.76" y1="676.4" y2="882.3" stroke="#EBEBEB" stroke-width="1.3"/>
<line x1="177.25" x2="177.25" y1="676.4" y2="882.3" stroke="#EBEBEB" stroke-width="1.3"/>
<line x1="190.74" x2="190.74" y1="676.4" y2="882.3" stroke="#EBEBEB" stroke-width="1.3"/>
<line x1="204.24" x2="204.24" y1="676.4" y2="882.3" stroke="#EBEBEB" stroke-width="1.3"/>
<line x1="217.73" x2="217.73" y1="676.4" y2="882.3" stroke="#EBEBEB" stroke-width="1.3"/>
<line x1="231.22" x2="231.22" y1="676.4" y2="882.3" stroke="#EBEBEB" stroke-width="1.3"/>
<line x1="244.71" x2="244.71" y1="676.4" y2="882.3" stroke="#EBEBEB" stroke-width="1.3"/>
<line x1="258.2" x2="258.2" y1="676.4" y2="882.3" stroke="#EBEBEB" stroke-width="1.3"/>
<line x1="271.7" x2="271.7" y1="676.4" y2="882.3" stroke="#EBEBEB" stroke-width="1.3"/>
<line x1="285.19" x2="285.19" y1="676.4" y2="882.3" stroke="#EBEBEB" stroke-width="1.3"/>
<line x1="298.68" x2="298.68" y1="676.4" y2="882.3" stroke="#EBEBEB" stroke-width="1.3"/>
<line x1="312.17" x2="312.17" y1="676.4" y2="882.3" stroke="#EBEBEB" stroke-width="1.3"/>
<line x1="325.66" x2="325.66" y1="676.4" y2="882.3" stroke="#EBEBEB" stroke-width="1.3"/>
<line x1="339.16" x2="339.16" y1="676.4" y2="882.3" stroke="#EBEBEB" stroke-width="1.3"/>
<line x1="352.65" x2="352.65" y1="676.4" y2="882.3" stroke="#EBEBEB" stroke-width="1.3"/>
<line x1="366.14" x2="366.14" y1="676.4" y2="882.3" stroke="#EBEBEB" stroke-width="1.3"/>
<line x1="379.63" x2="379.63" y1="676.4" y2="882.3" stroke="#EBEBEB" stroke-width="1.3"/>
<line x1="393.13" x2="393.13" y1="676.4" y2="882.3" stroke="#EBEBEB" stroke-width="1.3"/>
<line x1="406.62" x2="406.62" y1="676.4" y2="882.3" stroke="#EBEBEB" stroke-width="1.3"/>
<line x1="420.11" x2="420.11" y1="676.4" y2="882.3" stroke="#EBEBEB" stroke-width="1.3"/>
<line x1="433.6" x2="433.6" y1="676.4" y2="882.3" stroke="#EBEBEB" stroke-width="1.3"/>
<line x1="447.09" x2="447.09" y1="676.4" y2="882.3" stroke="#EBEBEB" stroke-width="1.3"/>
<line x1="460.59" x2="460.59" y1="676.4" y2="882.3" stroke="#EBEBEB" stroke-width="1.3"/>
<line x1="474.08" x2="474.08" y1="676.4" y2="882.3" stroke="#EBEBEB" stroke-width="1.3"/>
<line x1="487.57" x2="487.57" y1="676.4" y2="882.3" stroke="#EBEBEB" stroke-width="1.3"/>
<line x1="501.06" x2="501.06" y1="676.4" y2="882.3" stroke="#EBEBEB" stroke-width="1.3"/>
<line x1="514.55" x2="514.55" y1="676.4" y2="882.3" stroke="#EBEBEB" stroke-width="1.3"/>
<line x1="528.05" x2="528.05" y1="676.4" y2="882.3" stroke="#EBEBEB" stroke-width="1.3"/>
<line x1="541.54" x2="541.54" y1="676.4" y2="882.3" stroke="#EBEBEB" stroke-width="1.3"/>
<line x1="555.03" x2="555.03" y1="676.4" y2="882.3" stroke="#EBEBEB" stroke-width="1.3"/>
<line x1="568.52" x2="568.52" y1="676.4" y2="882.3" stroke="#EBEBEB" stroke-width="1.3"/>
<line x1="582.02" x2="582.02" y1="676.4" y2="882.3" stroke="#EBEBEB" stroke-width="1.3"/>
<line x1="595.51" x2="595.51" y1="676.4" y2="882.3" stroke="#EBEBEB" stroke-width="1.3"/>
<line x1="609" x2="609" y1="676.4" y2="882.3" stroke="#EBEBEB" stroke-width="1.3"/>
<line x1="622.49" x2="622.49" y1="676.4" y2="882.3" stroke="#EBEBEB" stroke-width="1.3"/>
<line x1="635.98" x2="635.98" y1="676.4" y2="882.3" stroke="#EBEBEB" stroke-width="1.3"/>
<line x1="649.48" x2="649.48" y1="676.4" y2="882.3" stroke="#EBEBEB" stroke-width="1.3"/>
<line x1="662.97" x2="662.97" y1="676.4" y2="882.3" stroke="#EBEBEB" stroke-width="1.3"/>
<line x1="676.46" x2="676.46" y1="676.4" y2="882.3" stroke="#EBEBEB" stroke-width="1.3"/>
<circle cx="42.33" cy="873.35" r="4.3" fill="#F8766D"/>
<circle cx="55.82" cy="873.35" r="4.3" fill="#F8766D"/>
<circle cx="69.31" cy="873.35" r="4.3" fill="#F8766D"/>
<circle cx="82.81" cy="873.35" r="4.3" fill="#F8766D"/>
<circle cx="96.3" cy="865" r="4.3" fill="#F8766D"/>
<circle cx="109.79" cy="865" r="4.3" fill="#F8766D"/>
<circle cx="123.28" cy="865" r="4.3" fill="#F8766D"/>
<circle cx="136.77" cy="856.66" r="4.3" fill="#F8766D"/>
<circle cx="150.27" cy="852.48" r="4.3" fill="#F8766D"/>
<circle cx="163.76" cy="852.48" r="4.3" fill="#F8766D"/>
<circle cx="177.25" cy="852.48" r="4.3" fill="#F8766D"/>
<circle cx="190.74" cy="852.48" r="4.3" fill="#F8766D"/>
<circle cx="204.24" cy="852.48" r="4.3" fill="#F8766D"/>
<circle cx="217.73" cy="852.48" r="4.3" fill="#F8766D"/>
<circle cx="231.22" cy="852.48" r="4.3" fill="#F8766D"/>
<circle cx="244.71" cy="852.48" r="4.3" fill="#F8766D"/>
<circle cx="258.2" cy="852.48" r="4.3" fill="#F8766D"/>
<circle cx="271.7" cy="848.31" r="4.3" fill="#F8766D"/>
<circle cx="285.19" cy="839.96" r="4.3" fill="#F8766D"/>
<circle cx="298.68" cy="839.96" r="4.3" fill="#F8766D"/>
<circle cx="312.17" cy="839.96" r="4.3" fill="#F8766D"/>
<circle cx="325.66" cy="839.96" r="4.3" fill="#F8766D"/>
<circle cx="339.16" cy="827.45" r="4.3" fill="#F8766D"/>
<path d="M352.65 817.04L358.05 826.39L347.25 826.39Z" fill="#00BFC4"/>
<circle cx="366.14" cy="823.27" r="4.3" fill="#F8766D"/>
<circle cx="379.63" cy="823.27" r="4.3" fill="#F8766D"/>
<circle cx="393.13" cy="823.27" r="4.3" fill="#F8766D"/>
<circle cx="406.62" cy="814.93" r="4.3" fill="#F8766D"/>
<circle cx="420.11" cy="814.93" r="4.3" fill="#F8766D"/>
<path d="M433.6 800.35L439 809.7L428.2 809.7Z" fill="#00BFC4"/>
<path d="M447.09 800.35L452.49 809.7L441.69 809.7Z" fill="#00BFC4"/>
<circle cx="460.59" cy="806.58" r="4.3" fill="#F8766D"/>
<path d="M474.08 800.35L479.48 809.7L468.68 809.7Z" fill="#00BFC4"/>
<path d="M487.57 779.48L492.97 788.84L482.17 788.84Z" fill="#00BFC4"/>
<path d="M501.06 779.48L506.46 788.84L495.66 788.84Z" fill="#00BFC4"/>
<path d="M514.55 779.48L519.95 788.84L509.15 788.84Z" fill="#00BFC4"/>
<path d="M528.05 779.48L533.45 788.84L522.65 788.84Z" fill="#00BFC4"/>
<path d="M541.54 779.48L546.94 788.84L536.14 788.84Z" fill="#00BFC4"/>
<path d="M555.03 779.48L560.43 788.84L549.63 788.84Z" fill="#00BFC4"/>
<path d="M568.52 779.48L573.92 788.84L563.12 788.84Z" fill="#00BFC4"/>
<path d="M582.02 766.97L587.42 776.32L576.62 776.32Z" fill="#00BFC4"/>
<path d="M595.51 758.62L600.91 767.97L590.11 767.97Z" fill="#00BFC4"/>
<path d="M609 737.76L614.4 747.11L603.6 747.11Z" fill="#00BFC4"/>
<path d="M622.49 733.58L627.89 742.94L617.09 742.94Z" fill="#00BFC4"/>
<path d="M635.98 733.58L641.38 742.94L630.58 742.94Z" fill="#00BFC4"/>
<path d="M649.48 708.55L654.88 717.9L644.08 717.9Z" fill="#00BFC4"/>
<path d="M662.97 708.55L668.37 717.9L657.57 717.9Z" fill="#00BFC4"/>
<path d="M676.46 679.34L681.86 688.69L671.06 688.69Z" fill="#00BFC4"/>
<line x1="34.45" x2="684.45" y1="785.72" y2="785.72" stroke="#FF0000" stroke-width="1.3"/>
<line x1="34.45" x2="684.45" y1="827.45" y2="827.45" stroke="#FF0000" stroke-width="1.3"/>
<text transform="translate(339.16 796.1) scale(1 0.96)" font-size="10.5" text-anchor="middle" fill="#000" stroke="#000" stroke-width="0.1">Number of clusters = 15</text>
<line x1="339.16" x2="339.16" y1="798.2" y2="810.6" stroke="#FF0000" stroke-width="1.35"/>
<path d="M333.66 810.1L344.66 810.1L339.16 819.7Z" fill="#FF0000"/>
<text transform="translate(487.57 754.8) scale(1 0.96)" font-size="10.5" text-anchor="middle" fill="#000" stroke="#000" stroke-width="0.1">Number of clusters = 25</text>
<line x1="487.57" x2="487.57" y1="756.5" y2="768.2" stroke="#FF0000" stroke-width="1.35"/>
<path d="M482.07 767.7L493.07 767.7L487.57 778.8Z" fill="#FF0000"/>
<line x1="34.45" x2="684.45" y1="676.4" y2="676.4" stroke="#8a8a8a" stroke-width="1.2"/>
<line x1="684.45" x2="684.45" y1="676.4" y2="882.3" stroke="#333333" stroke-width="1.1"/>
<line x1="34.45" x2="34.45" y1="676.4" y2="883.1" stroke="#777777" stroke-width="1.5"/>
<line x1="33.7" x2="685" y1="882.3" y2="882.3" stroke="#6a6a6a" stroke-width="1.6"/>
<line x1="31.05" x2="34.45" y1="848.31" y2="848.31" stroke="#333333" stroke-width="1.1"/>
<text transform="translate(28.2 852.41) scale(1 0.94)" font-size="11.2" text-anchor="end" fill="#4D4D4D" stroke="#4D4D4D" stroke-width="0.08">10</text>
<line x1="31.05" x2="34.45" y1="806.58" y2="806.58" stroke="#333333" stroke-width="1.1"/>
<text transform="translate(28.2 810.68) scale(1 0.94)" font-size="11.2" text-anchor="end" fill="#4D4D4D" stroke="#4D4D4D" stroke-width="0.08">20</text>
<line x1="31.05" x2="34.45" y1="764.86" y2="764.86" stroke="#333333" stroke-width="1.1"/>
<text transform="translate(28.2 768.96) scale(1 0.94)" font-size="11.2" text-anchor="end" fill="#4D4D4D" stroke="#4D4D4D" stroke-width="0.08">30</text>
<line x1="31.05" x2="34.45" y1="723.13" y2="723.13" stroke="#333333" stroke-width="1.1"/>
<text transform="translate(28.2 727.23) scale(1 0.94)" font-size="11.2" text-anchor="end" fill="#4D4D4D" stroke="#4D4D4D" stroke-width="0.08">40</text>
<line x1="31.05" x2="34.45" y1="681.4" y2="681.4" stroke="#333333" stroke-width="1.1"/>
<text transform="translate(28.2 685.5) scale(1 0.94)" font-size="11.2" text-anchor="end" fill="#4D4D4D" stroke="#4D4D4D" stroke-width="0.08">50</text>
<line x1="42.33" x2="42.33" y1="882.3" y2="885.7" stroke="#333333" stroke-width="1.1"/>
<text transform="translate(49.83 920.4) rotate(-90) scale(1 1.04)" font-size="9.5" text-anchor="middle" fill="#4D4D4D" stroke="#4D4D4D" stroke-width="0.18">4berlin52-2x2</text>
<line x1="55.82" x2="55.82" y1="882.3" y2="885.7" stroke="#333333" stroke-width="1.1"/>
<text transform="translate(63.32 920.4) rotate(-90) scale(1 1.04)" font-size="9.5" text-anchor="middle" fill="#4D4D4D" stroke="#4D4D4D" stroke-width="0.18">4eil51-2x2</text>
<line x1="69.31" x2="69.31" y1="882.3" y2="885.7" stroke="#333333" stroke-width="1.1"/>
<text transform="translate(76.81 920.4) rotate(-90) scale(1 1.04)" font-size="9.5" text-anchor="middle" fill="#4D4D4D" stroke="#4D4D4D" stroke-width="0.18">4eil76-2x2</text>
<line x1="82.81" x2="82.81" y1="882.3" y2="885.7" stroke="#333333" stroke-width="1.1"/>
<text transform="translate(90.31 920.4) rotate(-90) scale(1 1.04)" font-size="9.5" text-anchor="middle" fill="#4D4D4D" stroke="#4D4D4D" stroke-width="0.18">4pr76-2x2</text>
<line x1="96.3" x2="96.3" y1="882.3" y2="885.7" stroke="#333333" stroke-width="1.1"/>
<text transform="translate(103.8 920.4) rotate(-90) scale(1 1.04)" font-size="9.5" text-anchor="middle" fill="#4D4D4D" stroke="#4D4D4D" stroke-width="0.18">6berlin52-2x3</text>
<line x1="109.79" x2="109.79" y1="882.3" y2="885.7" stroke="#333333" stroke-width="1.1"/>
<text transform="translate(117.29 920.4) rotate(-90) scale(1 1.04)" font-size="9.5" text-anchor="middle" fill="#4D4D4D" stroke="#4D4D4D" stroke-width="0.18">6pr76-2x3</text>
<line x1="123.28" x2="123.28" y1="882.3" y2="885.7" stroke="#333333" stroke-width="1.1"/>
<text transform="translate(130.78 920.4) rotate(-90) scale(1 1.04)" font-size="9.5" text-anchor="middle" fill="#4D4D4D" stroke="#4D4D4D" stroke-width="0.18">6st70-2x3</text>
<line x1="136.77" x2="136.77" y1="882.3" y2="885.7" stroke="#333333" stroke-width="1.1"/>
<text transform="translate(144.27 920.4) rotate(-90) scale(1 1.04)" font-size="9.5" text-anchor="middle" fill="#4D4D4D" stroke="#4D4D4D" stroke-width="0.18">8berlin52-2x4</text>
<line x1="150.27" x2="150.27" y1="882.3" y2="885.7" stroke="#333333" stroke-width="1.1"/>
<text transform="translate(157.77 920.4) rotate(-90) scale(1 1.04)" font-size="9.5" text-anchor="middle" fill="#4D4D4D" stroke="#4D4D4D" stroke-width="0.18">9a280-3x3</text>
<line x1="163.76" x2="163.76" y1="882.3" y2="885.7" stroke="#333333" stroke-width="1.1"/>
<text transform="translate(171.26 920.4) rotate(-90) scale(1 1.04)" font-size="9.5" text-anchor="middle" fill="#4D4D4D" stroke="#4D4D4D" stroke-width="0.18">9eil101-3x3</text>
<line x1="177.25" x2="177.25" y1="882.3" y2="885.7" stroke="#333333" stroke-width="1.1"/>
<text transform="translate(184.75 920.4) rotate(-90) scale(1 1.04)" font-size="9.5" text-anchor="middle" fill="#4D4D4D" stroke="#4D4D4D" stroke-width="0.18">9eil51-3x3</text>
<line x1="190.74" x2="190.74" y1="882.3" y2="885.7" stroke="#333333" stroke-width="1.1"/>
<text transform="translate(198.24 920.4) rotate(-90) scale(1 1.04)" font-size="9.5" text-anchor="middle" fill="#4D4D4D" stroke="#4D4D4D" stroke-width="0.18">9eil76-3x3</text>
<line x1="204.24" x2="204.24" y1="882.3" y2="885.7" stroke="#333333" stroke-width="1.1"/>
<text transform="translate(211.74 920.4) rotate(-90) scale(1 1.04)" font-size="9.5" text-anchor="middle" fill="#4D4D4D" stroke="#4D4D4D" stroke-width="0.18">9gil262-3x3</text>
<line x1="217.73" x2="217.73" y1="882.3" y2="885.7" stroke="#333333" stroke-width="1.1"/>
<text transform="translate(225.23 920.4) rotate(-90) scale(1 1.04)" font-size="9.5" text-anchor="middle" fill="#4D4D4D" stroke="#4D4D4D" stroke-width="0.18">9lin318-3x3</text>
<line x1="231.22" x2="231.22" y1="882.3" y2="885.7" stroke="#333333" stroke-width="1.1"/>
<text transform="translate(238.72 920.4) rotate(-90) scale(1 1.04)" font-size="9.5" text-anchor="middle" fill="#4D4D4D" stroke="#4D4D4D" stroke-width="0.18">9pcb442-3x3</text>
<line x1="244.71" x2="244.71" y1="882.3" y2="885.7" stroke="#333333" stroke-width="1.1"/>
<text transform="translate(252.21 920.4) rotate(-90) scale(1 1.04)" font-size="9.5" text-anchor="middle" fill="#4D4D4D" stroke="#4D4D4D" stroke-width="0.18">9pr439-3x3</text>
<line x1="258.2" x2="258.2" y1="882.3" y2="885.7" stroke="#333333" stroke-width="1.1"/>
<text transform="translate(265.7 920.4) rotate(-90) scale(1 1.04)" font-size="9.5" text-anchor="middle" fill="#4D4D4D" stroke="#4D4D4D" stroke-width="0.18">9pr76-3x3</text>
<line x1="271.7" x2="271.7" y1="882.3" y2="885.7" stroke="#333333" stroke-width="1.1"/>
<text transform="translate(279.2 920.4) rotate(-90) scale(1 1.04)" font-size="9.5" text-anchor="middle" fill="#4D4D4D" stroke="#4D4D4D" stroke-width="0.18">10berlin52-2x5</text>
<line x1="285.19" x2="285.19" y1="882.3" y2="885.7" stroke="#333333" stroke-width="1.1"/>
<text transform="translate(292.69 920.4) rotate(-90) scale(1 1.04)" font-size="9.5" text-anchor="middle" fill="#4D4D4D" stroke="#4D4D4D" stroke-width="0.18">12eil51-3x4</text>
<line x1="298.68" x2="298.68" y1="882.3" y2="885.7" stroke="#333333" stroke-width="1.1"/>
<text transform="translate(306.18 920.4) rotate(-90) scale(1 1.04)" font-size="9.5" text-anchor="middle" fill="#4D4D4D" stroke="#4D4D4D" stroke-width="0.18">12eil76-3x4</text>
<line x1="312.17" x2="312.17" y1="882.3" y2="885.7" stroke="#333333" stroke-width="1.1"/>
<text transform="translate(319.67 920.4) rotate(-90) scale(1 1.04)" font-size="9.5" text-anchor="middle" fill="#4D4D4D" stroke="#4D4D4D" stroke-width="0.18">12pr76-3x4</text>
<line x1="325.66" x2="325.66" y1="882.3" y2="885.7" stroke="#333333" stroke-width="1.1"/>
<text transform="translate(333.16 920.4) rotate(-90) scale(1 1.04)" font-size="9.5" text-anchor="middle" fill="#4D4D4D" stroke="#4D4D4D" stroke-width="0.18">12st70-3x4</text>
<line x1="339.16" x2="339.16" y1="882.3" y2="885.7" stroke="#333333" stroke-width="1.1"/>
<text transform="translate(346.66 920.4) rotate(-90) scale(1 1.04)" font-size="9.5" text-anchor="middle" fill="#4D4D4D" stroke="#4D4D4D" stroke-width="0.18">15pr76-3x5</text>
<line x1="352.65" x2="352.65" y1="882.3" y2="885.7" stroke="#333333" stroke-width="1.1"/>
<text transform="translate(360.15 920.4) rotate(-90) scale(1 1.04)" font-size="9.5" text-anchor="middle" fill="#4D4D4D" stroke="#4D4D4D" stroke-width="0.18">16eil51-4x4</text>
<line x1="366.14" x2="366.14" y1="882.3" y2="885.7" stroke="#333333" stroke-width="1.1"/>
<text transform="translate(373.64 920.4) rotate(-90) scale(1 1.04)" font-size="9.5" text-anchor="middle" fill="#4D4D4D" stroke="#4D4D4D" stroke-width="0.18">16eil76-4x4</text>
<line x1="379.63" x2="379.63" y1="882.3" y2="885.7" stroke="#333333" stroke-width="1.1"/>
<text transform="translate(387.13 920.4) rotate(-90) scale(1 1.04)" font-size="9.5" text-anchor="middle" fill="#4D4D4D" stroke="#4D4D4D" stroke-width="0.18">16lin105-4x4</text>
<line x1="393.13" x2="393.13" y1="882.3" y2="885.7" stroke="#333333" stroke-width="1.1"/>
<text transform="translate(400.63 920.4) rotate(-90) scale(1 1.04)" font-size="9.5" text-anchor="middle" fill="#4D4D4D" stroke="#4D4D4D" stroke-width="0.18">16st70-4x4</text>
<line x1="406.62" x2="406.62" y1="882.3" y2="885.7" stroke="#333333" stroke-width="1.1"/>
<text transform="translate(414.12 920.4) rotate(-90) scale(1 1.04)" font-size="9.5" text-anchor="middle" fill="#4D4D4D" stroke="#4D4D4D" stroke-width="0.18">18pr439-3x6</text>
<line x1="420.11" x2="420.11" y1="882.3" y2="885.7" stroke="#333333" stroke-width="1.1"/>
<text transform="translate(427.61 920.4) rotate(-90) scale(1 1.04)" font-size="9.5" text-anchor="middle" fill="#4D4D4D" stroke="#4D4D4D" stroke-width="0.18">18pr76-3x6</text>
<line x1="433.6" x2="433.6" y1="882.3" y2="885.7" stroke="#333333" stroke-width="1.1"/>
<text transform="translate(441.1 920.4) rotate(-90) scale(1 1.04)" font-size="9.5" text-anchor="middle" fill="#4D4D4D" stroke="#4D4D4D" stroke-width="0.18">20eil51-4x5</text>
<line x1="447.09" x2="447.09" y1="882.3" y2="885.7" stroke="#333333" stroke-width="1.1"/>
<text transform="translate(454.59 920.4) rotate(-90) scale(1 1.04)" font-size="9.5" text-anchor="middle" fill="#4D4D4D" stroke="#4D4D4D" stroke-width="0.18">20eil76-4x5</text>
<line x1="460.59" x2="460.59" y1="882.3" y2="885.7" stroke="#333333" stroke-width="1.1"/>
<text transform="translate(468.09 920.4) rotate(-90) scale(1 1.04)" font-size="9.5" text-anchor="middle" fill="#4D4D4D" stroke="#4D4D4D" stroke-width="0.18">20pr439-4x5</text>
<line x1="474.08" x2="474.08" y1="882.3" y2="885.7" stroke="#333333" stroke-width="1.1"/>
<text transform="translate(481.58 920.4) rotate(-90) scale(1 1.04)" font-size="9.5" text-anchor="middle" fill="#4D4D4D" stroke="#4D4D4D" stroke-width="0.18">20st70-4x5</text>
<line x1="487.57" x2="487.57" y1="882.3" y2="885.7" stroke="#333333" stroke-width="1.1"/>
<text transform="translate(495.07 920.4) rotate(-90) scale(1 1.04)" font-size="9.5" text-anchor="middle" fill="#4D4D4D" stroke="#4D4D4D" stroke-width="0.18">25a280-5x5</text>
<line x1="501.06" x2="501.06" y1="882.3" y2="885.7" stroke="#333333" stroke-width="1.1"/>
<text transform="translate(508.56 920.4) rotate(-90) scale(1 1.04)" font-size="9.5" text-anchor="middle" fill="#4D4D4D" stroke="#4D4D4D" stroke-width="0.18">25eil101-5x5</text>
<line x1="514.55" x2="514.55" y1="882.3" y2="885.7" stroke="#333333" stroke-width="1.1"/>
<text transform="translate(522.05 920.4) rotate(-90) scale(1 1.04)" font-size="9.5" text-anchor="middle" fill="#4D4D4D" stroke="#4D4D4D" stroke-width="0.18">25eil51-5x5</text>
<line x1="528.05" x2="528.05" y1="882.3" y2="885.7" stroke="#333333" stroke-width="1.1"/>
<text transform="translate(535.55 920.4) rotate(-90) scale(1 1.04)" font-size="9.5" text-anchor="middle" fill="#4D4D4D" stroke="#4D4D4D" stroke-width="0.18">25eil76-5x5</text>
<line x1="541.54" x2="541.54" y1="882.3" y2="885.7" stroke="#333333" stroke-width="1.1"/>
<text transform="translate(549.04 920.4) rotate(-90) scale(1 1.04)" font-size="9.5" text-anchor="middle" fill="#4D4D4D" stroke="#4D4D4D" stroke-width="0.18">25gil262-5x5</text>
<line x1="555.03" x2="555.03" y1="882.3" y2="885.7" stroke="#333333" stroke-width="1.1"/>
<text transform="translate(562.53 920.4) rotate(-90) scale(1 1.04)" font-size="9.5" text-anchor="middle" fill="#4D4D4D" stroke="#4D4D4D" stroke-width="0.18">25pcb442-5x5</text>
<line x1="568.52" x2="568.52" y1="882.3" y2="885.7" stroke="#333333" stroke-width="1.1"/>
<text transform="translate(576.02 920.4) rotate(-90) scale(1 1.04)" font-size="9.5" text-anchor="middle" fill="#4D4D4D" stroke="#4D4D4D" stroke-width="0.18">25rat99-5x5</text>
<line x1="582.02" x2="582.02" y1="882.3" y2="885.7" stroke="#333333" stroke-width="1.1"/>
<text transform="translate(589.52 920.4) rotate(-90) scale(1 1.04)" font-size="9.5" text-anchor="middle" fill="#4D4D4D" stroke="#4D4D4D" stroke-width="0.18">28kroA100-4x7</text>
<line x1="595.51" x2="595.51" y1="882.3" y2="885.7" stroke="#333333" stroke-width="1.1"/>
<text transform="translate(603.01 920.4) rotate(-90) scale(1 1.04)" font-size="9.5" text-anchor="middle" fill="#4D4D4D" stroke="#4D4D4D" stroke-width="0.18">30kroB100-5x6</text>
<line x1="609" x2="609" y1="882.3" y2="885.7" stroke="#333333" stroke-width="1.1"/>
<text transform="translate(616.5 920.4) rotate(-90) scale(1 1.04)" font-size="9.5" text-anchor="middle" fill="#4D4D4D" stroke="#4D4D4D" stroke-width="0.18">35kroB100-5x5</text>
<line x1="622.49" x2="622.49" y1="882.3" y2="885.7" stroke="#333333" stroke-width="1.1"/>
<text transform="translate(629.99 920.4) rotate(-90) scale(1 1.04)" font-size="9.5" text-anchor="middle" fill="#4D4D4D" stroke="#4D4D4D" stroke-width="0.18">36eil101-6x6</text>
<line x1="635.98" x2="635.98" y1="882.3" y2="885.7" stroke="#333333" stroke-width="1.1"/>
<text transform="translate(643.48 920.4) rotate(-90) scale(1 1.04)" font-size="9.5" text-anchor="middle" fill="#4D4D4D" stroke="#4D4D4D" stroke-width="0.18">36pcb442-6x6</text>
<line x1="649.48" x2="649.48" y1="882.3" y2="885.7" stroke="#333333" stroke-width="1.1"/>
<text transform="translate(656.98 920.4) rotate(-90) scale(1 1.04)" font-size="9.5" text-anchor="middle" fill="#4D4D4D" stroke="#4D4D4D" stroke-width="0.18">42a280-6x7</text>
<line x1="662.97" x2="662.97" y1="882.3" y2="885.7" stroke="#333333" stroke-width="1.1"/>
<text transform="translate(670.47 920.4) rotate(-90) scale(1 1.04)" font-size="9.5" text-anchor="middle" fill="#4D4D4D" stroke="#4D4D4D" stroke-width="0.18">42rat99-6x7</text>
<line x1="676.46" x2="676.46" y1="882.3" y2="885.7" stroke="#333333" stroke-width="1.1"/>
<text transform="translate(683.96 920.4) rotate(-90) scale(1 1.04)" font-size="9.5" text-anchor="middle" fill="#4D4D4D" stroke="#4D4D4D" stroke-width="0.18">49lin318-7x7</text>
<rect x="45.13" y="924.4" width="4.6" height="5.2" fill="#b4b4b4"/>
<rect x="43.03" y="926.2" width="2.2" height="3.4" fill="#b4b4b4"/>
<rect x="99.1" y="924.4" width="4.6" height="5.2" fill="#b4b4b4"/>
<rect x="97" y="926.2" width="2.2" height="3.4" fill="#b4b4b4"/>
<rect x="139.57" y="924.4" width="4.6" height="5.2" fill="#b4b4b4"/>
<rect x="137.47" y="926.2" width="2.2" height="3.4" fill="#b4b4b4"/>
<text transform="translate(10 779.35) rotate(-90) scale(1 1.03)" font-size="13.4" text-anchor="middle" fill="#000" stroke="#000" stroke-width="0.0">Number of clusters</text>
<text transform="translate(359.2 964.7) scale(1 1.03)" font-size="13.55" text-anchor="middle" fill="#000" stroke="#000" stroke-width="0.0">Instances</text>
<rect x="34.1" y="676.3" width="138.9" height="47.3" fill="#fff" stroke="#333333" stroke-width="1.45"/>
<circle cx="49.45" cy="691.4" r="4.3" fill="#F8766D"/>
<path d="M49.45 702.16L54.85 711.52L44.05 711.52Z" fill="#00BFC4"/>
<text transform="translate(58.1 695.85) scale(1 1.07)" font-size="11.95" font-style="italic" fill="#000" stroke="#000" stroke-width="0.2">N-MFEA &gt;&gt; HBRGA</text>
<text transform="translate(58.1 712.85) scale(1 1.07)" font-size="11.95" font-style="italic" fill="#000" stroke="#000" stroke-width="0.2">N-MFEA &lt;&lt; HBRGA</text>
<text transform="translate(303.22 999.9) scale(1.0669 1.07)" font-family="Liberation Serif, serif" font-size="16.6" fill="#000">(c)</text>
<text transform="translate(329.35 999.9) scale(1.1590 1.0)" font-family="Liberation Serif, serif" font-size="16.6" fill="#000">Type 6</text>
</svg>
</body></html>
